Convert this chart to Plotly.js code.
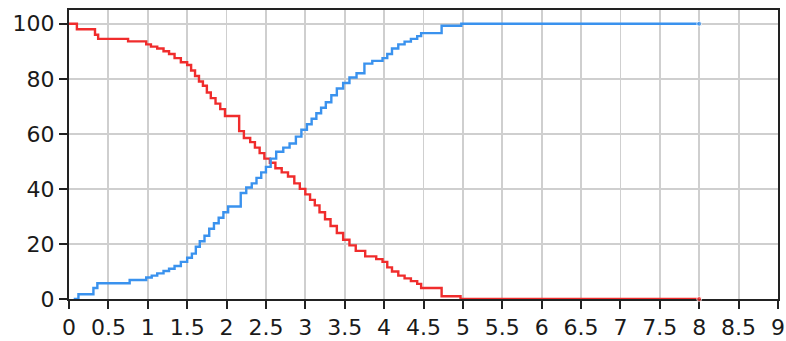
<!DOCTYPE html>
<html>
<head>
<meta charset="utf-8">
<script src="https://cdn.plot.ly/plotly-3.0.1.min.js"></script>
<style>html,body{margin:0;padding:0;background:#fff;}#chart{width:786px;height:341px;}</style>
</head>
<body>
<div id="chart"></div>
<script>
// Descending curve (red)
var redX = [0, 0.1, 0.33, 0.37, 0.75, 0.98, 1.04, 1.12, 1.2, 1.27, 1.34, 1.42, 1.5, 1.55, 1.6, 1.65, 1.7, 1.75, 1.8, 1.86, 1.92, 1.98, 2.16, 2.22, 2.3, 2.36, 2.42, 2.48, 2.55, 2.62, 2.7, 2.78, 2.86, 2.93, 3.0, 3.06, 3.12, 3.18, 3.25, 3.32, 3.4, 3.48, 3.56, 3.64, 3.76, 3.9, 3.98, 4.04, 4.1, 4.18, 4.26, 4.34, 4.42, 4.47, 4.73, 4.97, 8];
var redY = [100, 98, 96, 94.5, 93.6, 92.5, 91.7, 91, 90, 89, 87.5, 86, 85, 83, 81, 79, 77.5, 75, 73, 71, 69, 66.5, 61, 58.5, 57, 55, 53, 51, 49.5, 47.5, 46, 44.5, 42, 40, 38, 36, 34, 31.5, 29, 26.5, 24, 21.5, 19.5, 17.5, 15.5, 14.5, 13.5, 11.5, 10, 8.5, 7.5, 6.5, 5.5, 4, 1, 0, 0];
// Ascending curve (blue)
var blueX = [0.06, 0.12, 0.31, 0.36, 0.77, 0.98, 1.05, 1.12, 1.2, 1.27, 1.34, 1.42, 1.5, 1.56, 1.61, 1.66, 1.72, 1.78, 1.84, 1.9, 1.96, 2.02, 2.18, 2.25, 2.32, 2.38, 2.44, 2.5, 2.56, 2.63, 2.72, 2.8, 2.88, 2.95, 3.02, 3.08, 3.14, 3.2, 3.26, 3.33, 3.4, 3.48, 3.56, 3.65, 3.75, 3.85, 3.98, 4.04, 4.1, 4.18, 4.26, 4.34, 4.42, 4.47, 4.73, 4.98, 8];
var blueY = [0, 1.7, 4, 5.7, 6.9, 7.8, 8.5, 9.3, 10.2, 11, 12, 13.5, 15, 16.5, 19, 21, 23, 25.5, 27.5, 29.5, 31.5, 33.6, 38.5, 40.5, 42, 44, 46, 48, 51, 53.5, 55, 56.5, 59, 61.5, 63.5, 65.5, 67.5, 69.5, 71.5, 74, 76.5, 78.5, 80.5, 82, 85.5, 86.5, 87.5, 89, 91, 92.5, 93.5, 94.5, 95.5, 96.6, 99.3, 100, 100];
var xTicks = [0, 0.5, 1, 1.5, 2, 2.5, 3, 3.5, 4, 4.5, 5, 5.5, 6, 6.5, 7, 7.5, 8, 8.5, 9];
var yTicks = [0, 20, 40, 60, 80, 100];

function endSizes(arr){ return arr.map(function(_, i){ return i === arr.length - 1 ? 5 : 0; }); }

var traces = [
  {x: redX, y: redY, type: 'scatter', mode: 'lines+markers', line: {shape: 'hv', color: '#f02c2c', width: 2.4},
   marker: {size: endSizes(redX), color: '#f02c2c'}, cliponaxis: false, hoverinfo: 'skip'},
  {x: blueX, y: blueY, type: 'scatter', mode: 'lines+markers', line: {shape: 'hv', color: '#3a92ee', width: 2.4},
   marker: {size: endSizes(blueX), color: '#3a92ee'}, cliponaxis: false, hoverinfo: 'skip'}
];

var font = {family: 'DejaVu Sans, Verdana, sans-serif', size: 22, color: '#1a1a1a'};
var layout = {
  width: 786, height: 341,
  margin: {l: 69, r: 8, t: 10, b: 42},
  paper_bgcolor: '#fff', plot_bgcolor: '#fff',
  showlegend: false,
  font: font,
  xaxis: {range: [0, 9], tickmode: 'array', tickvals: xTicks, ticktext: xTicks.map(String),
    showgrid: true, gridcolor: '#cfcfcf', gridwidth: 1.8,
    showline: true, linecolor: '#222', linewidth: 2, mirror: true,
    ticks: 'outside', ticklen: 8, tickwidth: 2, tickcolor: '#222',
    zeroline: false, layer: 'below traces', tickfont: font, fixedrange: true,
    ticklabeloverflow: 'allow'},
  yaxis: {range: [0, 105], tickmode: 'array', tickvals: yTicks, ticktext: yTicks.map(String),
    showgrid: true, gridcolor: '#cfcfcf', gridwidth: 1.8,
    showline: true, linecolor: '#222', linewidth: 2, mirror: true,
    ticks: 'outside', ticklen: 8, tickwidth: 2, tickcolor: '#222',
    zeroline: false, layer: 'below traces', tickfont: font, fixedrange: true,
    ticklabeloverflow: 'allow'}
};
Plotly.newPlot('chart', traces, layout, {displayModeBar: false, staticPlot: true});
</script>
</body>
</html>
